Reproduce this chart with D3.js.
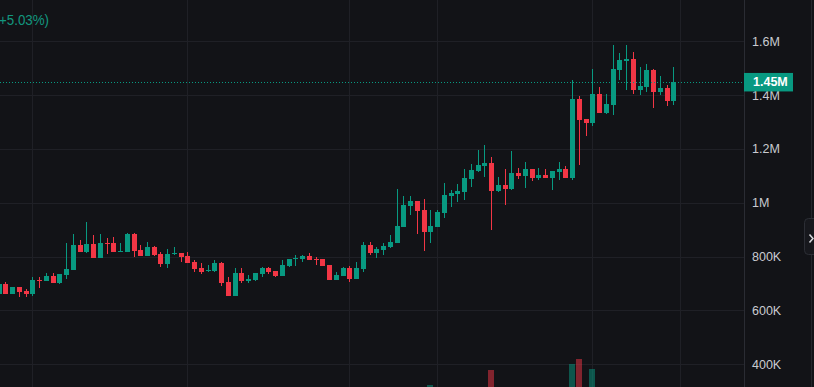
<!DOCTYPE html>
<html><head><meta charset="utf-8">
<script src="https://cdn.jsdelivr.net/npm/d3@7"></script>
<style>html,body{margin:0;padding:0;background:#121317;overflow:hidden}svg{display:block}</style>
</head><body><svg id="c" width="814" height="387"></svg>
<script>
// candle index (-1 = partially visible candle at left edge)
const candleIndex = d3.range(-1, 100);
const openK  = [661,698,661,687,673,661,714,709,728,702,732,750,843,817,847,795,851,851,817,817,884,824,802,836,810,773,810,813,802,780,758,746,746,776,706,654,739,709,713,735,758,746,728,765,791,791,802,791,791,769,713,728,758,717,754,843,813,824,836,851,910,988,1007,973,891,910,962,1025,1033,1040,1088,1118,1137,1148,1044,1066,1051,1111,1099,1125,1092,1103,1092,1114,1125,1092,1386,1311,1296,1404,1334,1363,1493,1527,1534,1419,1430,1493,1412,1426,1378];
const highK  = [700,706,687,687,681,723,725,741,739,735,851,884,862,929,880,884,869,873,851,888,886,843,854,838,817,828,836,813,817,787,776,769,787,780,724,758,758,732,741,760,760,748,787,793,806,806,813,798,793,769,743,761,765,780,854,854,836,851,880,1051,1025,1025,1007,1014,973,973,1073,1047,1070,1125,1144,1196,1215,1170,1096,1125,1192,1129,1152,1127,1129,1125,1120,1152,1137,1456,1397,1311,1497,1430,1404,1586,1556,1586,1560,1504,1516,1497,1471,1438,1504];
const lowK   = [658,661,661,651,651,654,684,709,702,698,717,750,817,813,795,795,810,817,817,817,798,802,802,804,761,758,806,780,776,743,735,743,743,691,654,654,702,702,711,724,735,724,728,763,765,780,787,769,765,713,713,728,706,717,743,806,795,806,832,851,910,955,884,821,851,910,943,984,1003,1010,1059,1114,1096,899,1040,992,1047,1088,1055,1081,1085,1092,1047,1085,1092,1085,1140,1248,1285,1334,1330,1326,1456,1419,1404,1400,1412,1352,1400,1360,1363];
const closeK = [698,661,687,669,661,713,709,728,702,735,754,843,817,847,795,851,847,817,821,884,821,802,836,806,773,810,813,798,776,754,743,750,776,702,654,739,709,717,739,758,743,728,769,791,795,802,787,787,765,713,732,758,717,758,843,813,828,839,854,914,992,1007,970,891,914,966,1029,1036,1044,1092,1122,1140,1148,1044,1066,1051,1111,1099,1125,1092,1103,1092,1118,1125,1092,1386,1308,1296,1404,1334,1367,1497,1530,1534,1419,1434,1493,1412,1426,1378,1449];
// volume (relative units), only bars tall enough to be seen are known
const volumeIndex = [63, 72, 84, 85, 87];
const volumeValue = [57, 82, 92, 100, 84];

const yTicks = [400, 600, 800, 1000, 1200, 1400, 1600];
const yTickLabels = ["400K", "600K", "800K", "1M", "1.2M", "1.4M", "1.6M"];
const timeGridIndex = [4, 27, 51, 64, 87, 100];
const lastPriceLabel = "1.45M";
const changeText = "+5.03%)";

const W = 814, H = 387, plotRight = 744;
const UP = "#089981", DOWN = "#f23645";
const svg = d3.select("#c");
svg.append("rect").attr("width", W).attr("height", H).attr("fill", "#121317");

const x = d3.scaleLinear().domain([0, 99]).range([5.3, 673.3]);
const y = d3.scaleLinear().domain([400, 1600]).range([364.3, 41.3]);
const yv = d3.scaleLinear().domain([0, 100]).range([420, 359]);

const plot = svg.append("g");
plot.append("clipPath").attr("id", "clip").append("rect").attr("x", 0).attr("y", 0).attr("width", plotRight).attr("height", H);

// grid
const grid = plot.append("g").attr("shape-rendering", "crispEdges").attr("stroke", "#1f2026").attr("stroke-width", 1);
grid.selectAll(".hg").data(yTicks).join("line")
  .attr("x1", 0).attr("x2", plotRight).attr("y1", d => Math.round(y(d)) + 0.5).attr("y2", d => Math.round(y(d)) + 0.5);
grid.selectAll(".vg").data(timeGridIndex).join("line")
  .attr("y1", 0).attr("y2", H).attr("x1", d => Math.round(x(d)) + 0.5).attr("x2", d => Math.round(x(d)) + 0.5);

const data = candleIndex.map((idx, k) => ({i: idx, o: openK[k], h: highK[k], l: lowK[k], c: closeK[k]}));
const g = plot.append("g").attr("clip-path", "url(#clip)");

// volume
g.append("g").selectAll("rect").data(volumeIndex.map((idx, k) => ({i: idx, v: volumeValue[k]}))).join("rect")
  .attr("x", d => Math.round(x(d.i)) - 3).attr("width", 6)
  .attr("y", d => yv(d.v)).attr("height", d => yv(0) - yv(d.v))
  .attr("fill", d => { const r = data.find(e => e.i === d.i); return r.c >= r.o ? UP : DOWN; })
  .attr("opacity", 0.5).attr("shape-rendering", "crispEdges");

// candles
const cg = g.append("g").attr("shape-rendering", "crispEdges");
cg.selectAll("line").data(data).join("line")
  .attr("x1", d => Math.round(x(d.i)) + 0.5).attr("x2", d => Math.round(x(d.i)) + 0.5)
  .attr("y1", d => y(d.h)).attr("y2", d => y(d.l))
  .attr("stroke", d => d.c >= d.o ? UP : DOWN).attr("stroke-width", 1);
cg.selectAll("rect").data(data).join("rect")
  .attr("x", d => Math.round(x(d.i)) - 2).attr("width", 5)
  .attr("y", d => y(Math.max(d.o, d.c)))
  .attr("height", d => Math.max(1, y(Math.min(d.o, d.c)) - y(Math.max(d.o, d.c))))
  .attr("fill", d => d.c >= d.o ? UP : DOWN);

// last price dotted line
const lastClose = closeK[closeK.length - 1];
plot.append("line").attr("x1", 0).attr("x2", plotRight)
  .attr("y1", Math.round(y(lastClose)) + 0.5).attr("y2", Math.round(y(lastClose)) + 0.5)
  .attr("stroke", UP).attr("stroke-width", 1).attr("stroke-dasharray", "1,2");

// legend text
svg.append("text").attr("x", -1).attr("y", 24.5).text(changeText)
  .attr("fill", "#12977f").attr("font-family", "Liberation Sans, Arial, sans-serif")
  .attr("font-size", 15.5).attr("textLength", 50).attr("lengthAdjust", "spacingAndGlyphs");

// axis separator & right edge
svg.append("line").attr("x1", plotRight + 0.5).attr("x2", plotRight + 0.5).attr("y1", 0).attr("y2", H)
  .attr("stroke", "#2a2c33").attr("shape-rendering", "crispEdges");
svg.append("line").attr("x1", 811.5).attr("x2", 811.5).attr("y1", 0).attr("y2", H)
  .attr("stroke", "#24262c").attr("shape-rendering", "crispEdges");

// y axis
const axis = d3.axisRight(y).tickValues(yTicks).tickFormat((d, k) => yTickLabels[k]).tickSize(0).tickPadding(8);
const ag = svg.append("g").attr("transform", `translate(${plotRight},0)`).call(axis);
ag.select(".domain").remove();
ag.selectAll("text").attr("fill", "#c9cbd1").attr("font-family", "Liberation Sans, Arial, sans-serif").attr("font-size", 12.5);

// last price label
const ly = y(lastClose);
svg.append("rect").attr("x", plotRight).attr("y", ly - 9).attr("width", 49).attr("height", 18.5).attr("fill", UP);
svg.append("text").attr("x", plotRight + 9).attr("y", ly).attr("dy", "0.35em").text(lastPriceLabel)
  .attr("fill", "#ffffff").attr("font-family", "Liberation Sans, Arial, sans-serif").attr("font-size", 12.5).attr("font-weight", "bold");

// side button
svg.append("rect").attr("x", 804.5).attr("y", 218.5).attr("width", 14).attr("height", 36).attr("rx", 4)
  .attr("fill", "#17181d").attr("stroke", "#2c2e35");
svg.append("polyline").attr("points", "809.5,234.5 813,238.5 809.5,242.5").attr("fill", "none")
  .attr("stroke", "#d5d6da").attr("stroke-width", 1.6);
</script></body></html>
